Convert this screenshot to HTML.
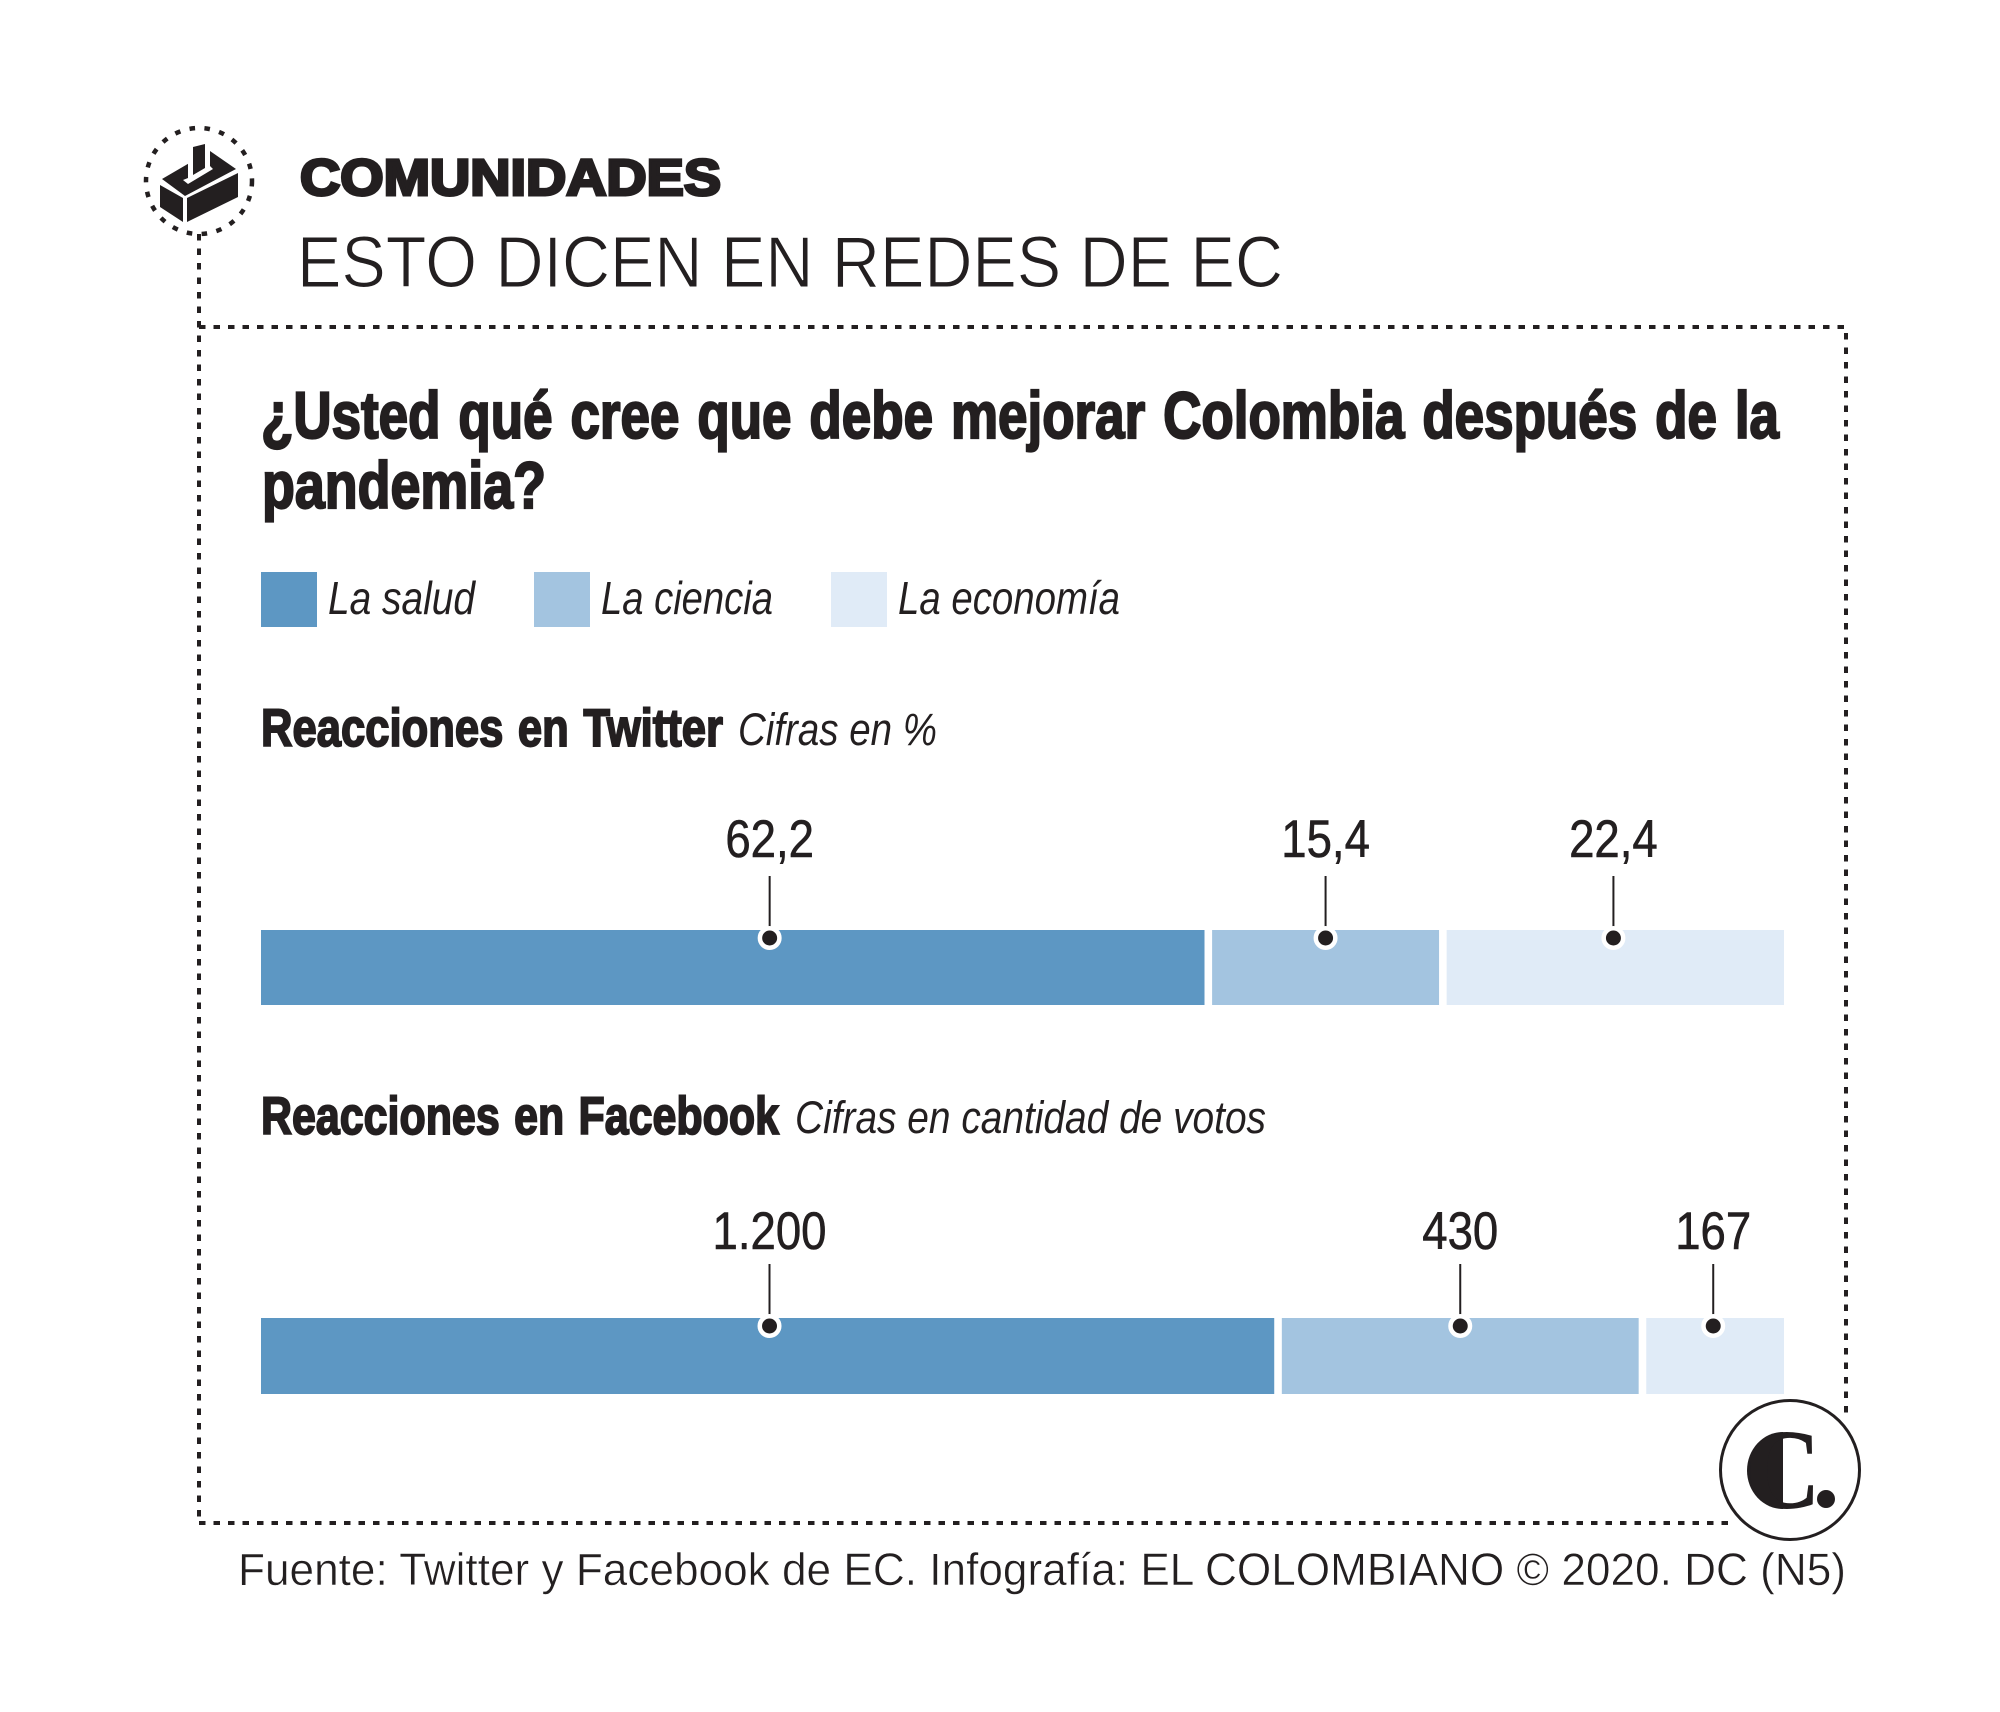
<!DOCTYPE html>
<html lang="es">
<head>
<meta charset="utf-8">
<title>Esto dicen en redes de EC</title>
<style>
html,body{margin:0;padding:0;background:#fff;}
svg{display:block;}
text{font-family:"Liberation Sans",sans-serif;fill:#231f20;}
.narrow{font-family:"Liberation Sans Narrow","Liberation Sans",sans-serif;}
.heavy{font-weight:bold;stroke:#231f20;}
</style>
</head>
<body>
<svg id="chart" xmlns="http://www.w3.org/2000/svg" width="2000" height="1712" viewBox="0 0 2000 1712">
  <rect width="2000" height="1712" fill="#fff"/>

  <path d="M199 234V1523" fill="none" stroke="#231f20" stroke-width="4" stroke-dasharray="6.5 8"/>
  <path d="M199 327H1846V1414M1728 1523H199" fill="none" stroke="#231f20" stroke-width="4" stroke-dasharray="6.5 8"/>

  <g>
    <circle cx="199" cy="181" r="53" fill="none" stroke="#231f20" stroke-width="4.5" stroke-dasharray="5.5 9.5"/>
    <polygon fill="#231f20" points="160,185 183,198 183,222 160,207"/>
    <polygon fill="#231f20" points="187,198 238,173 238,197 187,222"/>
    <polygon fill="#231f20" points="162,179 210,151 236,169 185,196"/>
    <polygon fill="#fff" points="188,160 188,178 183,180 188,184 213,169 210,166 210,148 193,143"/>
    <polygon fill="#231f20" points="193,147 205,144 205,168 193,175"/>
  </g>

  <text class="heavy" x="300" y="195" font-size="51" stroke-width="3" textLength="421" lengthAdjust="spacingAndGlyphs">COMUNIDADES</text>
  <text x="297" y="287" font-size="72" stroke="#fff" stroke-width="1.1" textLength="986" lengthAdjust="spacingAndGlyphs">ESTO DICEN EN REDES DE EC</text>

  <text class="narrow heavy" x="261" y="438" font-size="66" stroke-width="2.2" style="word-spacing:4px" textLength="1518" lengthAdjust="spacingAndGlyphs">¿Usted qué cree que debe mejorar Colombia después de la</text>
  <text class="narrow heavy" x="262" y="508" font-size="66" stroke-width="2.2" textLength="284" lengthAdjust="spacingAndGlyphs">pandemia?</text>

  <g id="legend">
    <rect x="261" y="572" width="56" height="55" fill="#5d97c3"/>
    <text class="narrow" font-style="italic" x="328" y="614" font-size="46" textLength="147" lengthAdjust="spacingAndGlyphs">La salud</text>
    <rect x="534" y="572" width="56" height="55" fill="#a3c4e0"/>
    <text class="narrow" font-style="italic" x="601" y="614" font-size="46" textLength="172" lengthAdjust="spacingAndGlyphs">La ciencia</text>
    <rect x="831" y="572" width="56" height="55" fill="#e0ebf7"/>
    <text class="narrow" font-style="italic" x="898" y="614" font-size="46" textLength="222" lengthAdjust="spacingAndGlyphs">La economía</text>
  </g>

  <text class="narrow heavy" x="261" y="746" font-size="53" stroke-width="1.9" style="word-spacing:3px" textLength="462" lengthAdjust="spacingAndGlyphs">Reacciones en Twitter</text>
  <text class="narrow" font-style="italic" x="738" y="745" font-size="45" textLength="199" lengthAdjust="spacingAndGlyphs">Cifras en %</text>
  <text class="narrow heavy" x="261" y="1134" font-size="53" stroke-width="1.9" style="word-spacing:3px" textLength="518" lengthAdjust="spacingAndGlyphs">Reacciones en Facebook</text>
  <text class="narrow" font-style="italic" x="795" y="1133" font-size="45" textLength="471" lengthAdjust="spacingAndGlyphs">Cifras en cantidad de votos</text>

  <g id="twitter-chart"></g>
  <g id="facebook-chart"></g>

  <g>
    <circle cx="1790" cy="1470" r="69.5" fill="#fff" stroke="#231f20" stroke-width="3"/>
    <path d="M1783 1432A36 38.5 0 0 0 1783 1509Z" fill="#231f20"/>
    <text x="1745" y="1508" font-size="114" font-weight="bold" textLength="76" lengthAdjust="spacingAndGlyphs" style="font-family:'Liberation Serif',serif">C</text>
    <circle cx="1826" cy="1499" r="9" fill="#231f20"/>
  </g>

  <text x="238" y="1585" font-size="45" stroke="#fff" stroke-width="0.5" textLength="1608" lengthAdjust="spacingAndGlyphs">Fuente: Twitter y Facebook de EC. Infografía: EL COLOMBIANO © 2020. DC (N5)</text>
</svg>

<script>
const categories = ['salud', 'ciencia', 'economia'];
const twitterValues = [62.2, 15.4, 22.4];
const facebookValues = [1200, 430, 167];
const segmentColors = ['#5d97c3', '#a3c4e0', '#e0ebf7'];

const NS = 'http://www.w3.org/2000/svg';
const AXIS_LEFT = 261;
const AXIS_RIGHT = 1784;
const SEGMENT_GAP = 3.8;

function xScale(value, total) {
  return AXIS_LEFT + (value / total) * (AXIS_RIGHT - AXIS_LEFT);
}

function formatTwitter(v) {
  return v.toFixed(1).replace('.', ',');
}

function formatFacebook(v) {
  return String(Math.round(v)).replace(/\B(?=(\d{3})+$)/g, '.');
}

function make(tag, attrs, parent) {
  const el = document.createElementNS(NS, tag);
  for (const key in attrs) el.setAttribute(key, attrs[key]);
  parent.appendChild(el);
  return el;
}

function drawStackedBar(groupId, prefix, values, format, barTop, barHeight, labelBaseline, firstMarkerShift) {
  const group = document.getElementById(groupId);
  const total = values.reduce(function (a, b) { return a + b; }, 0);
  let cumulative = 0;
  values.forEach(function (value, i) {
    const start = xScale(cumulative, total);
    const end = xScale(cumulative + value, total);
    cumulative += value;
    const left = i === 0 ? start : start + SEGMENT_GAP;
    const right = i === values.length - 1 ? end : end - SEGMENT_GAP;

    const bar = make('rect', { x: left, y: barTop, width: Math.max(0, right - left), height: barHeight, fill: segmentColors[i] }, group);
    
    

    const markerX = (start + end) / 2 + (i === 0 ? firstMarkerShift : 0);
    const markerY = barTop + 8;

    const leader = make('line', { x1: markerX, x2: markerX, y1: markerY - 62, y2: markerY, stroke: '#231f20', 'stroke-width': 2 }, group);
    
    

    const dot = make('circle', { cx: markerX, cy: markerY, r: 9.75, fill: '#231f20', stroke: '#fff', 'stroke-width': 4.5 }, group);
    
    

    const label = make('text', { transform: 'translate(' + markerX + ',' + labelBaseline + ') scale(0.86,1)', 'text-anchor': 'middle', 'font-size': 53, stroke: '#231f20', 'stroke-width': 0.6 }, group);
    label.textContent = format(value);
    
    
  });
}

drawStackedBar('twitter-chart', 'twitter', twitterValues, formatTwitter, 930, 75, 857, 35);
drawStackedBar('facebook-chart', 'facebook', facebookValues, formatFacebook, 1318, 76, 1249, 0);
</script>
</body>
</html>
